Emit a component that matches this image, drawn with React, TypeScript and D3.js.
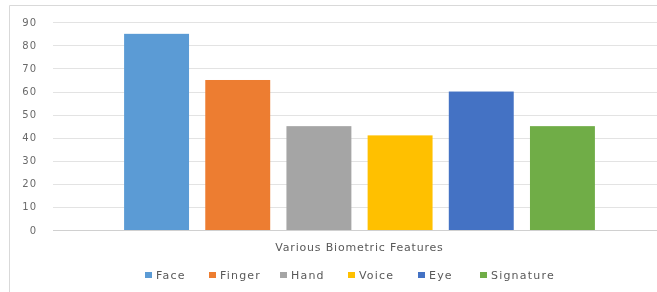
import * as d3 from 'd3'
import { useEffect, useRef } from 'react'

const categoryTitle = 'Various Biometric Features'
const features = ['Face', 'Finger', 'Hand', 'Voice', 'Eye', 'Signature']
const scores = [85, 65, 45, 41, 60, 45]
const colors = ['#5B9BD5', '#ED7D31', '#A5A5A5', '#FFC000', '#4472C4', '#70AD47']
const yTicks = [0, 10, 20, 30, 40, 50, 60, 70, 80, 90]

const W = 657
const H = 292

const App = () => {
  const svgRef = useRef<SVGSVGElement>(null)

  useEffect(() => {
    const svg = d3.select(svgRef.current)
    svg.selectAll('*').remove()

    const font = '"DejaVu Sans", "Liberation Sans", sans-serif'
    const plotLeft = 53
    const plotRight = 666
    const yTop = 22.3
    const yBottom = 230

    // chart frame (cut off on the right and bottom)
    svg
      .append('path')
      .attr('d', `M9.5,${H} L9.5,5.5 L${W},5.5`)
      .attr('fill', 'none')
      .attr('stroke', '#d9d9d9')

    const y = d3.scaleLinear().domain([0, 90]).range([yBottom, yTop])

    // gridlines
    svg
      .append('g')
      .selectAll('line')
      .data(yTicks)
      .join('line')
      .attr('x1', plotLeft)
      .attr('x2', plotRight)
      .attr('y1', (d) => Math.round(y(d)) + 0.5)
      .attr('y2', (d) => Math.round(y(d)) + 0.5)
      .attr('stroke', (d) => (d === 0 ? '#d0d0d0' : '#e3e3e3'))
      .attr('stroke-width', 1.2)

    svg
      .append('g')
      .selectAll('text')
      .data(yTicks)
      .join('text')
      .attr('x', 37)
      .attr('y', (d) => y(d))
      .attr('dy', '0.35em')
      .attr('text-anchor', 'end')
      .style('font-family', font)
      .style('font-size', '10px')
      .style('letter-spacing', '1px')
      .attr('fill', '#6a6a6a')
      .text((d) => d)

    // one category, six series
    const x0 = d3.scaleBand().domain([categoryTitle]).range([plotLeft, plotRight]).paddingInner(0).paddingOuter(0.151)
    const x = d3
      .scaleBand()
      .domain(features)
      .range([x0(categoryTitle)!, x0(categoryTitle)! + x0.bandwidth()])
      .paddingInner(0.2)
      .paddingOuter(0)

    svg
      .append('g')
      .selectAll('rect')
      .data(features)
      .join('rect')
      .attr('x', (d) => x(d)!)
      .attr('y', (d, i) => y(scores[i]))
      .attr('width', x.bandwidth())
      .attr('height', (d, i) => yBottom - y(scores[i]))
      .attr('fill', (d, i) => colors[i])

    svg
      .append('text')
      .attr('x', x0(categoryTitle)! + x0.bandwidth() / 2)
      .attr('y', 247)
      .attr('dy', '0.35em')
      .attr('text-anchor', 'middle')
      .style('font-family', font)
      .style('font-size', '11px')
      .style('letter-spacing', '0.8px')
      .attr('fill', '#595959')
      .text(categoryTitle)

    // legend
    const legendX = [145, 209, 280, 348, 418, 480]
    const legend = svg
      .append('g')
      .selectAll('g')
      .data(features)
      .join('g')
      .attr('transform', (d, i) => `translate(${legendX[i]}, 275)`)
    legend
      .append('rect')
      .attr('x', 0)
      .attr('y', -3)
      .attr('width', 7)
      .attr('height', 6)
      .attr('fill', (d, i) => colors[i])
    legend
      .append('text')
      .attr('x', 11)
      .attr('y', 0)
      .attr('dy', '0.35em')
      .style('font-family', font)
      .style('font-size', '11px')
      .style('letter-spacing', '1.2px')
      .attr('fill', '#595959')
      .text((d) => d)
  }, [])

  return (
    <svg
      ref={svgRef}
      width={W}
      height={H}
      style={{ position: 'absolute', left: 0, top: 0, background: '#fff', filter: 'blur(0.4px)' }}
    ></svg>
  )
}

export default App
